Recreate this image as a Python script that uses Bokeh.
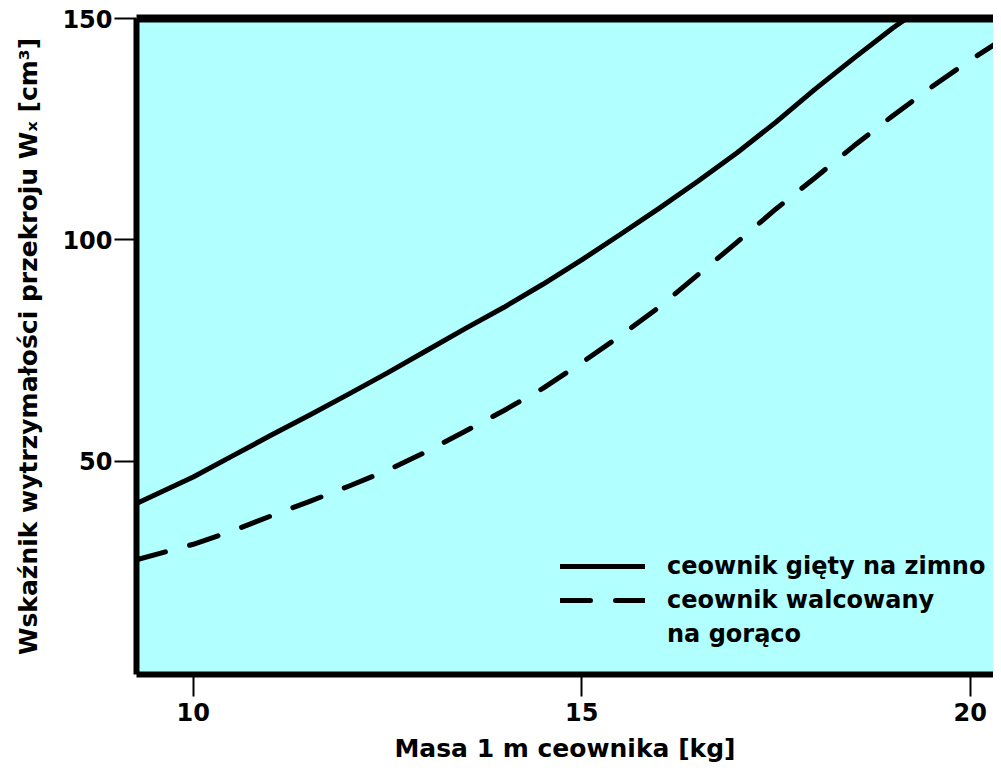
from bokeh.plotting import figure
from bokeh.models import Range1d, LinearAxis, FixedTicker, Legend, LegendItem
from bokeh.embed import file_html
from bokeh.resources import INLINE

# data
mass_cold = [9.27, 10, 10.5, 11, 11.5, 12, 12.5, 13, 13.5, 14, 14.5, 15, 15.5, 16, 16.5,
             17, 17.5, 18, 18.5, 19, 19.18]
wx_cold = [40.5, 46.5, 51.2, 55.9, 60.5, 65.2, 70.0, 75.0, 80.0, 84.8, 90.0, 95.5, 101.3,
           107.2, 113.3, 119.7, 126.6, 134.0, 141.0, 147.8, 150.0]
mass_hot = [9.27, 10, 10.5, 11, 11.5, 12, 12.5, 13, 13.5, 14, 14.5, 15, 15.5, 16, 16.5,
            17, 17.5, 18, 18.5, 19, 19.5, 20, 20.3]
wx_hot = [27.8, 31.3, 34.3, 37.7, 41.0, 44.4, 48.0, 52.2, 56.8, 61.5, 66.5, 72.3, 78.4,
          84.9, 92.2, 99.5, 107.0, 114.0, 121.2, 128.0, 134.5, 140.6, 144.0]
x_ticks = [10, 15, 20]
y_ticks = [50, 100, 150]
label_cold = "ceownik gięty na zimno"
label_hot_1 = "ceownik walcowany"
label_hot_2 = "na gorąco"
x_title = "Masa 1 m ceownika [kg]"
y_title = "Wskaźnik wytrzymałości przekroju Wₓ [cm³]"

FONT = "DejaVu Sans"

p = figure(width=993, height=765, output_backend="svg", toolbar_location=None,
           x_range=Range1d(9.27, 20.3), y_range=Range1d(1.9, 150),
           x_axis_location=None, y_axis_location=None,
           min_border_left=136, min_border_top=18, min_border_right=0, min_border_bottom=84)
p.background_fill_color = "#b2ffff"
p.outline_line_color = None
p.xgrid.visible = False
p.ygrid.visible = False

def style(ax, lw):
    ax.axis_line_width = lw
    ax.axis_line_color = "black"
    ax.major_tick_line_width = 2
    ax.major_tick_out = 22
    ax.major_tick_in = 0
    ax.minor_tick_out = 0
    ax.minor_tick_in = 0
    ax.major_label_text_font = FONT
    ax.major_label_text_font_style = "bold"
    ax.major_label_text_font_size = "24px"
    ax.major_label_text_color = "black"
    ax.axis_label_text_font = FONT
    ax.axis_label_text_font_style = "bold"
    ax.axis_label_text_font_size = "25px"
    ax.axis_label_text_color = "black"

xa = LinearAxis(ticker=FixedTicker(ticks=x_ticks), axis_label=x_title)
style(xa, 6)
xa.major_label_standoff = 6
xa.axis_label_standoff = 10
p.add_layout(xa, "below")

ya = LinearAxis(ticker=FixedTicker(ticks=y_ticks), axis_label=y_title)
style(ya, 6)
ya.major_label_standoff = 2
ya.axis_label_standoff = 16
p.add_layout(ya, "left")

ta = LinearAxis(ticker=FixedTicker(ticks=[]))
ta.axis_line_width = 8
ta.axis_line_color = "black"
ta.major_tick_out = 0
ta.minor_tick_out = 0
ta.major_label_text_font_size = "0px"
p.add_layout(ta, "above")

r1 = p.line(mass_cold, wx_cold, line_width=5, line_color="black",
            line_cap="round", line_join="round")
r2 = p.line(mass_hot, wx_hot, line_width=5, line_color="black", line_dash="30 25",
            line_cap="round", line_join="round")
# invisible helper so the second line of the legend label has no glyph
r3 = p.line(mass_hot, wx_hot, line_alpha=0)

legend = Legend(items=[LegendItem(label=label_cold, renderers=[r1]),
                       LegendItem(label=label_hot_1, renderers=[r2]),
                       LegendItem(label=label_hot_2, renderers=[r3])],
                location=(424, 26))
legend.background_fill_alpha = 0
legend.border_line_alpha = 0
legend.padding = 0
legend.margin = 0
legend.spacing = 6
legend.glyph_width = 85
legend.glyph_height = 20
legend.label_height = 28
legend.label_standoff = 22
legend.label_text_font = FONT
legend.label_text_font_style = "bold"
legend.label_text_font_size = "24px"
legend.label_text_color = "black"
p.add_layout(legend, "center")

open("out.html", "w").write(file_html(p, INLINE))
